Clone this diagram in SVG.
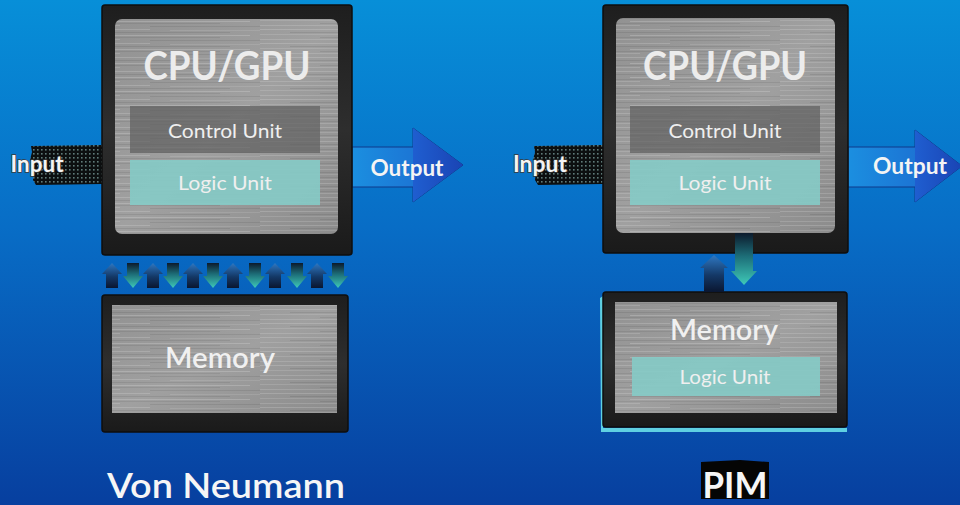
<svg xmlns="http://www.w3.org/2000/svg" width="960" height="505" viewBox="0 0 960 505">
<defs>
  <linearGradient id="bg" x1="0" y1="0" x2="0" y2="1">
    <stop offset="0" stop-color="#078fd8"/>
    <stop offset="0.45" stop-color="#086dc6"/>
    <stop offset="1" stop-color="#073f9f"/>
  </linearGradient>
  <linearGradient id="frame" x1="0" y1="0" x2="0" y2="1">
    <stop offset="0" stop-color="#1e1e1e"/>
    <stop offset="0.5" stop-color="#2e2e2e"/>
    <stop offset="1" stop-color="#1a1a1a"/>
  </linearGradient>
  <linearGradient id="panel" x1="0" y1="0" x2="1" y2="1">
    <stop offset="0" stop-color="#929292"/>
    <stop offset="0.5" stop-color="#a0a0a0"/>
    <stop offset="1" stop-color="#8c8c8c"/>
  </linearGradient>
  <pattern id="brush" patternUnits="userSpaceOnUse" width="260" height="14">
    <rect x="0" y="1" width="150" height="1" fill="#ffffff" opacity="0.16"/>
    <rect x="170" y="2" width="90" height="1" fill="#ffffff" opacity="0.10"/>
    <rect x="30" y="4" width="200" height="1" fill="#000000" opacity="0.08"/>
    <rect x="0" y="6" width="80" height="1" fill="#ffffff" opacity="0.12"/>
    <rect x="110" y="7" width="140" height="1" fill="#ffffff" opacity="0.18"/>
    <rect x="60" y="9" width="160" height="1" fill="#000000" opacity="0.07"/>
    <rect x="0" y="11" width="120" height="1" fill="#ffffff" opacity="0.14"/>
    <rect x="150" y="12" width="110" height="1" fill="#000000" opacity="0.08"/>
  </pattern>
  <pattern id="dots" patternUnits="userSpaceOnUse" width="4" height="4">
    <rect width="4" height="4" fill="#0c0f10"/>
    <rect x="1" y="1" width="1.6" height="1.6" fill="#5f7a78"/>
  </pattern>
  <linearGradient id="outShaft" x1="0" y1="0" x2="1" y2="0">
    <stop offset="0" stop-color="#1b8fe0"/>
    <stop offset="1" stop-color="#1d62cc"/>
  </linearGradient>
  <linearGradient id="outHead" x1="0" y1="0" x2="1" y2="0">
    <stop offset="0" stop-color="#1f5ed0"/>
    <stop offset="1" stop-color="#1a44b4"/>
  </linearGradient>
  <linearGradient id="upG" x1="0" y1="0" x2="0" y2="1">
    <stop offset="0" stop-color="#2f78c2"/>
    <stop offset="0.55" stop-color="#143866"/>
    <stop offset="1" stop-color="#0a1630"/>
  </linearGradient>
  <linearGradient id="downG" x1="0" y1="0" x2="0" y2="1">
    <stop offset="0" stop-color="#0c1a2c"/>
    <stop offset="0.45" stop-color="#1d6e78"/>
    <stop offset="1" stop-color="#3fcab8"/>
  </linearGradient>
  <path id="upArrow" d="M0,0 L10,11 L6,11 L6,25 L-6,25 L-6,11 L-10,11 Z"/>
  <path id="downArrow" d="M-6,0 L6,0 L6,13 L10,13 L0,25 L-10,13 L-6,13 Z"/>
</defs>
<style>
  .frame { fill: url(#frame); stroke: #0e0e0e; stroke-width: 1.5; }
  .panel { fill: url(#panel); }
  .brush { fill: url(#brush); }
  .ctrl { fill: #5e5e5e; opacity: 0.7; }
  .logic { fill: #86cac6; opacity: 0.92; }
  .lbl { font-family: Lato, "Open Sans", "Liberation Sans", sans-serif; text-anchor: middle; }
  .big { font-size: 40px; font-weight: 700; fill: #ececec; }
  .mid { font-size: 20px; fill: #efefef; }
  .mem { font-size: 28px; font-weight: 600; fill: #f0f0f0; }
  .io { font-size: 22px; font-weight: 700; fill: #f4f4f4; }
  .inTxt { stroke: #3a3a3a; stroke-width: 1.5; paint-order: stroke; }
  .cap { font-size: 34px; font-weight: 600; fill: #f6f6f6; }
  .capb { font-size: 36px; font-weight: 700; fill: #f6f6f6; }
  .up { fill: url(#upG); }
  .down { fill: url(#downG); }
  .outArrow { stroke: #0f3a8c; stroke-width: 1; }
</style>

<rect width="960" height="505" fill="url(#bg)"/>

<!-- ===== Von Neumann (left) ===== -->
<g id="input-left">
  <path d="M31,146 L102,145 L102,184 L36,185 L33,180 L34,170 L30,160 L32,152 Z" fill="url(#dots)"/>
  <text class="lbl io inTxt" x="37" y="172" textLength="53" lengthAdjust="spacingAndGlyphs">Input</text>
</g>

<g id="output-left">
  <path class="outArrow" d="M352,147 L413,147 L413,128 L463,165 L413,202 L413,187 L352,187 Z" fill="url(#outShaft)"/>
  <path d="M413,128 L463,165 L413,202 Z" fill="url(#outHead)"/>
  <text class="lbl io" x="407" y="176" textLength="73" lengthAdjust="spacingAndGlyphs">Output</text>
</g>

<g id="cpu-left">
  <rect class="frame" x="102" y="5" width="250" height="250" rx="3"/>
  <rect class="panel" x="115" y="19" width="223" height="215" rx="7"/>
  <rect class="brush" x="115" y="19" width="223" height="215" rx="7"/>
  <text class="lbl big" x="227" y="80" textLength="167" lengthAdjust="spacingAndGlyphs">CPU/GPU</text>
  <rect class="ctrl" x="130" y="106" width="190" height="47"/>
  <text class="lbl mid" x="225" y="138" textLength="114" lengthAdjust="spacingAndGlyphs">Control Unit</text>
  <rect class="logic" x="130" y="160" width="190" height="45"/>
  <text class="lbl mid" x="225" y="190" textLength="94" lengthAdjust="spacingAndGlyphs">Logic Unit</text>
</g>

<g id="memory-left">
  <rect class="frame" x="102" y="295" width="246" height="137" rx="3"/>
  <rect class="panel" x="112" y="305" width="225" height="108"/>
  <rect class="brush" x="112" y="305" width="225" height="108"/>
  <text class="lbl mem" x="220" y="368" textLength="110" lengthAdjust="spacingAndGlyphs">Memory</text>
</g>

<g id="caption-left">
  <text class="lbl cap" x="226" y="498" textLength="238" lengthAdjust="spacingAndGlyphs">Von Neumann</text>
</g>

<!-- ===== PIM (right) ===== -->
<g id="input-right">
  <path d="M534,146 L603,145 L603,184 L538,185 L535,180 L536,170 L533,160 L535,152 Z" fill="url(#dots)"/>
  <text class="lbl io inTxt" x="540" y="172" textLength="54" lengthAdjust="spacingAndGlyphs">Input</text>
</g>

<g id="output-right">
  <path class="outArrow" d="M848,147 L915,147 L915,130 L962,166 L915,202 L915,187 L848,187 Z" fill="url(#outShaft)"/>
  <path d="M915,130 L962,166 L915,202 Z" fill="url(#outHead)"/>
  <text class="lbl io" x="910" y="174" textLength="74" lengthAdjust="spacingAndGlyphs">Output</text>
</g>

<g id="cpu-right">
  <rect class="frame" x="603" y="5" width="245" height="248" rx="3"/>
  <rect class="panel" x="616" y="18" width="219" height="215" rx="7"/>
  <rect class="brush" x="616" y="18" width="219" height="215" rx="7"/>
  <text class="lbl big" x="725" y="80" textLength="164" lengthAdjust="spacingAndGlyphs">CPU/GPU</text>
  <rect class="ctrl" x="630" y="106" width="190" height="47"/>
  <text class="lbl mid" x="725" y="138" textLength="113" lengthAdjust="spacingAndGlyphs">Control Unit</text>
  <rect class="logic" x="630" y="160" width="190" height="45"/>
  <text class="lbl mid" x="725" y="190" textLength="93" lengthAdjust="spacingAndGlyphs">Logic Unit</text>
</g>

<g id="memory-right">
  <path d="M603,296 L603,428 L847,428 L847,432 L601,432 L600,298 Z" fill="#5fd0e2"/>
  <rect class="frame" x="603" y="292" width="244" height="135" rx="3"/>
  <rect class="panel" x="615" y="302" width="222" height="111"/>
  <rect class="brush" x="615" y="302" width="222" height="111"/>
  <text class="lbl mem" x="724" y="340" textLength="108" lengthAdjust="spacingAndGlyphs">Memory</text>
  <rect class="logic" x="632" y="357" width="188" height="39"/>
  <text class="lbl mid" x="725" y="384" textLength="91" lengthAdjust="spacingAndGlyphs">Logic Unit</text>
</g>

<g id="caption-right">
  <path d="M701,462 L740,460 L769,462 L769,499 L701,499 Z" fill="#050505"/>
  <text class="lbl capb" x="735" y="498" textLength="65" lengthAdjust="spacingAndGlyphs">PIM</text>
</g>

<!-- ===== Connectors ===== -->
<g id="connectors">
  <g id="bus-left">
    <use href="#upArrow" class="up" x="112" y="263"/>
    <use href="#downArrow" class="down" x="133" y="263"/>
    <use href="#upArrow" class="up" x="153" y="263"/>
    <use href="#downArrow" class="down" x="173" y="263"/>
    <use href="#upArrow" class="up" x="193" y="263"/>
    <use href="#downArrow" class="down" x="213" y="263"/>
    <use href="#upArrow" class="up" x="233" y="263"/>
    <use href="#downArrow" class="down" x="255" y="263"/>
    <use href="#upArrow" class="up" x="275" y="263"/>
    <use href="#downArrow" class="down" x="297" y="263"/>
    <use href="#upArrow" class="up" x="317" y="263"/>
    <use href="#downArrow" class="down" x="338" y="263"/>
  </g>
  <g id="bus-right">
    <path class="up" d="M714,255 L728,268 L724,268 L724,292 L704,292 L704,268 L700,268 Z"/>
    <path class="down" d="M735,233 L753,233 L753,271 L757,271 L744,285 L731,271 L735,271 Z"/>
  </g>
</g>
</svg>
